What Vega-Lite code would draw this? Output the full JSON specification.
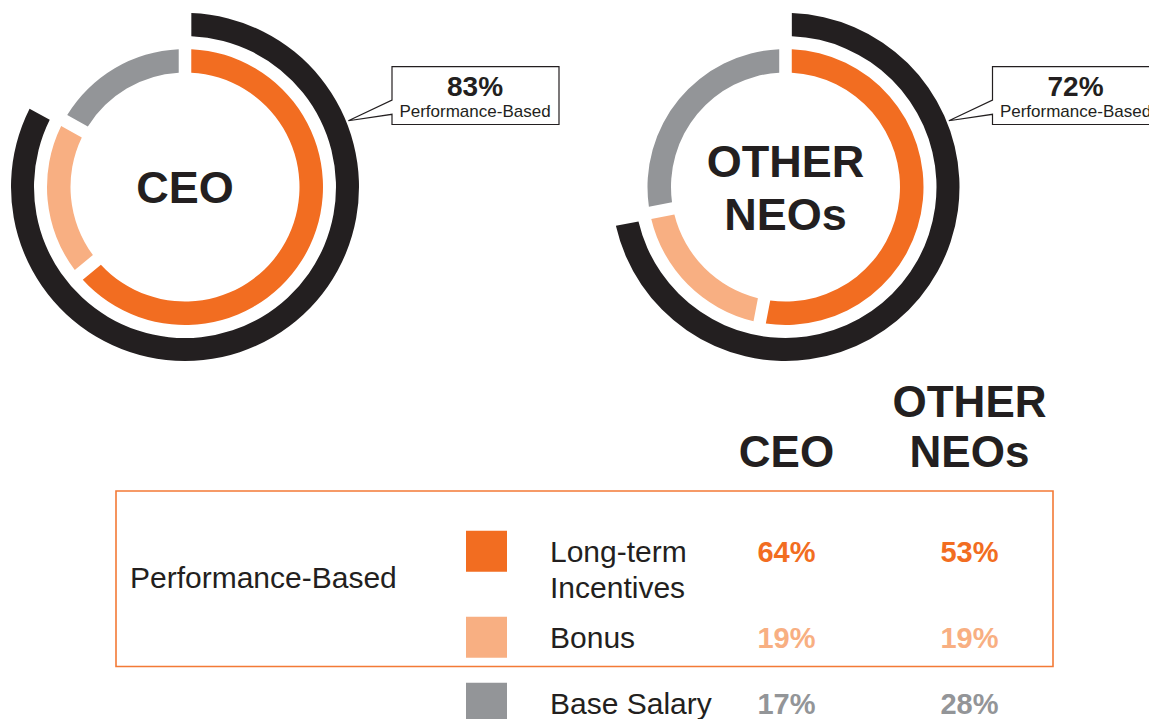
{
  "$schema": "https://vega.github.io/schema/vega-lite/v6.json",
  "width": 1149,
  "height": 719,
  "autosize": {"type": "none"},
  "padding": 0,
  "background": "white",
  "config": {"view": {"stroke": null}, "font": "Liberation Sans"},
  "data": {"values": [
    {"group": "CEO", "component": "Long-term\nIncentives", "basis": "Performance-Based", "order": 1, "share": 0.64},
    {"group": "CEO", "component": "Bonus", "basis": "Performance-Based", "order": 2, "share": 0.19},
    {"group": "CEO", "component": "Base Salary", "basis": "Fixed", "order": 3, "share": 0.17},
    {"group": "OTHER NEOs", "component": "Long-term\nIncentives", "basis": "Performance-Based", "order": 1, "share": 0.53},
    {"group": "OTHER NEOs", "component": "Bonus", "basis": "Performance-Based", "order": 2, "share": 0.19},
    {"group": "OTHER NEOs", "component": "Base Salary", "basis": "Fixed", "order": 3, "share": 0.28}
  ]},
  "layer": [
    {
      "transform": [
        {"stack": "share", "groupby": ["group"], "sort": [{"field": "order", "order": "ascending"}], "as": ["s0", "s1"]}
      ],
      "encoding": {
        "x": {"field": "group", "type": "nominal", "axis": null, "scale": {"type": "point", "domain": ["CEO", "OTHER NEOs"], "range": [185, 785.5], "padding": 0}},
        "y": {"field": "group", "type": "nominal", "axis": null, "scale": {"type": "point", "domain": ["CEO", "OTHER NEOs"], "range": [187, 187], "padding": 0}}
      },
      "layer": [
        {
          "mark": {"type": "arc", "radius": 138, "radius2": 114.5, "padAngle": 0.07},
          "encoding": {
            "theta": {"field": "s0", "type": "quantitative", "scale": {"domain": [0, 1], "range": [0, 6.283185307]}},
            "theta2": {"field": "s1"},
            "color": {"field": "component", "type": "nominal", "legend": null,
              "scale": {"domain": ["Long-term\nIncentives", "Bonus", "Base Salary"], "range": ["#F26D21", "#F8AF82", "#939598"]}}
          }
        },
        {
          "transform": [
            {"filter": "datum.basis === 'Performance-Based'"},
            {"aggregate": [
              {"op": "min", "field": "s0", "as": "p0"},
              {"op": "max", "field": "s1", "as": "p1"},
              {"op": "sum", "field": "share", "as": "perfShare"}
            ], "groupby": ["group", "basis"]}
          ],
          "layer": [
            {
              "mark": {"type": "arc", "radius": 174, "radius2": 151, "padAngle": 0.055, "color": "#231F20"},
              "encoding": {
                "theta": {"field": "p0", "type": "quantitative", "scale": {"domain": [0, 1], "range": [0, 6.283185307]}},
                "theta2": {"field": "p1"}
              }
            },
            {
              "mark": {"type": "point", "shape": "M-1,-0.346L1,-0.346L1,0.346L-1,0.346L-1,0.224L-1.523,0.301L-1,0.053Z",
                "size": 27889, "filled": true, "fill": "white", "stroke": "#231F20", "strokeWidth": 1.2, "opacity": 1,
                "xOffset": 290.5, "yOffset": -91.4},
              "encoding": {}
            },
            {
              "mark": {"type": "text", "fontSize": 28, "fontWeight": "bold", "color": "#231F20", "dx": 290, "dy": -91.3, "baseline": "alphabetic", "align": "center"},
              "encoding": {"text": {"field": "perfShare", "type": "quantitative", "format": ".0%"}}
            },
            {
              "mark": {"type": "text", "fontSize": 17, "color": "#231F20", "dx": 290, "dy": -70.3, "baseline": "alphabetic", "align": "center"},
              "encoding": {"text": {"field": "basis", "type": "nominal"}}
            }
          ]
        }
      ]
    },
    {
      "transform": [{"aggregate": [{"op": "count", "as": "n"}], "groupby": ["group"]}],
      "mark": {"type": "text", "fontSize": 45, "fontWeight": "bold", "color": "#231F20", "lineBreak": " ", "lineHeight": 53, "baseline": "alphabetic", "align": "center"},
      "encoding": {
        "x": {"field": "group", "type": "nominal", "axis": null, "scale": {"type": "point", "domain": ["CEO", "OTHER NEOs"], "range": [185, 785.5], "padding": 0}},
        "y": {"field": "group", "type": "nominal", "axis": null, "scale": {"type": "point", "domain": ["CEO", "OTHER NEOs"], "range": [203, 177], "padding": 0}},
        "text": {"field": "group", "type": "nominal"}
      }
    },
    {
      "transform": [{"aggregate": [{"op": "count", "as": "n"}], "groupby": ["group"]}],
      "mark": {"type": "text", "fontSize": 44, "fontWeight": "bold", "color": "#231F20", "lineBreak": " ", "lineHeight": 50, "baseline": "alphabetic", "align": "center"},
      "encoding": {
        "x": {"field": "group", "type": "nominal", "axis": null, "scale": {"type": "point", "domain": ["CEO", "OTHER NEOs"], "range": [786.5, 969.5], "padding": 0}},
        "y": {"field": "group", "type": "nominal", "axis": null, "scale": {"type": "point", "domain": ["CEO", "OTHER NEOs"], "range": [467, 417], "padding": 0}},
        "text": {"field": "group", "type": "nominal"}
      }
    },
    {
      "layer": [
        {
          "transform": [
            {"filter": "datum.basis === 'Performance-Based'"},
            {"aggregate": [{"op": "sum", "field": "share", "as": "total"}], "groupby": ["basis"]}
          ],
          "layer": [
            {
              "mark": {"type": "point", "shape": "M-4.685,-0.8775L4.685,-0.8775L4.685,0.8775L-4.685,0.8775Z",
                "size": 40000, "filled": false, "color": "#F37A36", "strokeWidth": 1.6, "opacity": 1,
                "xOffset": 10, "yOffset": 219.25},
              "encoding": {}
            },
            {
              "mark": {"type": "text", "fontSize": 30, "color": "#231F20", "align": "left", "baseline": "alphabetic", "dx": -444.5, "dy": 228},
              "encoding": {"text": {"field": "basis", "type": "nominal"}}
            }
          ]
        },
        {
          "transform": [{"filter": "datum.group === 'CEO'"}],
          "layer": [
            {
              "mark": {"type": "point", "shape": "square", "size": 1681, "filled": true, "opacity": 1, "xOffset": -88, "yOffset": -1.3},
              "encoding": {
                "y": {"field": "order", "type": "quantitative", "axis": null, "scale": {"type": "sqrt", "domain": [1, 3], "range": [552.5, 704.5], "zero": false, "nice": false}},
                "color": {"field": "component", "type": "nominal", "legend": null,
                  "scale": {"domain": ["Long-term\nIncentives", "Bonus", "Base Salary"], "range": ["#F26D21", "#F8AF82", "#939598"]}}
              }
            },
            {
              "mark": {"type": "text", "fontSize": 30, "color": "#231F20", "align": "left", "baseline": "middle", "lineBreak": "\n", "lineHeight": 36.7, "dx": -24.5},
              "encoding": {
                "y": {"field": "order", "type": "quantitative", "axis": null, "scale": {"type": "sqrt", "domain": [1, 3], "range": [552.5, 704.5], "zero": false, "nice": false}},
                "text": {"field": "component", "type": "nominal"}
              }
            }
          ]
        },
        {
          "mark": {"type": "text", "fontSize": 29, "fontWeight": "bold", "align": "center", "baseline": "middle"},
          "encoding": {
            "x": {"field": "group", "type": "nominal", "axis": null, "scale": {"type": "point", "domain": ["CEO", "OTHER NEOs"], "range": [786.5, 969.5], "padding": 0}},
            "y": {"field": "order", "type": "quantitative", "axis": null, "scale": {"type": "sqrt", "domain": [1, 3], "range": [552.5, 704.5], "zero": false, "nice": false}},
            "text": {"field": "share", "type": "quantitative", "format": ".0%"},
            "color": {"field": "component", "type": "nominal", "legend": null,
              "scale": {"domain": ["Long-term\nIncentives", "Bonus", "Base Salary"], "range": ["#F26D21", "#F8AF82", "#939598"]}}
          }
        }
      ]
    }
  ],
  "resolve": {"scale": {"x": "independent", "y": "independent"}}
}
